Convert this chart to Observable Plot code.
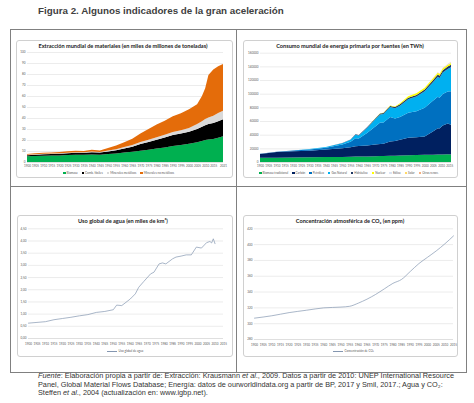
<!DOCTYPE html>
<html><head><meta charset="utf-8">
<script src="https://cdn.jsdelivr.net/npm/d3@7"></script>
<script src="https://cdn.jsdelivr.net/npm/@observablehq/plot@0.6"></script>
<style>
body{margin:0;background:#fff;width:474px;height:403px;position:relative;overflow:hidden;font-family:Arial,"Liberation Sans",sans-serif;}
.abs{position:absolute}
#title{left:38px;top:5px;font-size:9.8px;font-weight:bold;color:#404040;white-space:nowrap}
.ln{position:absolute;background:#808080}
.box{position:absolute;border:1px solid #d0d0d0;border-radius:3px;box-sizing:border-box;background:#fff}
.ct{position:absolute;font-family:Lato,"Open Sans",sans-serif;font-weight:bold;font-size:5.6px;color:#222;white-space:nowrap;transform:translateX(-50%)}
.leg{position:absolute;font-family:Lato,"Open Sans",sans-serif;font-size:3px;color:#595959;white-space:nowrap;display:flex;gap:4px;align-items:center}
.leg span.k{display:inline-block;width:2.5px;height:2.5px;margin-right:1px;vertical-align:middle}
.leg span.l{display:inline-block;width:10px;height:0;border-top:0.8px solid #8496b0;margin-right:1.5px;vertical-align:middle}
#note{left:38px;top:372px;font-size:7.3px;line-height:8.6px;color:#333;white-space:nowrap}
.plot{position:absolute}
</style></head>
<body>
<div id="title" class="abs">Figura 2. Algunos indicadores de la gran aceleración</div>
<div class="ln" style="left:10px;top:29px;width:457px;height:1px"></div>
<div class="ln" style="left:10px;top:372px;width:457px;height:1px"></div>
<div class="ln" style="left:10px;top:29px;width:1px;height:344px"></div>
<div class="ln" style="left:466px;top:29px;width:1px;height:344px"></div>
<div class="ln" style="left:236px;top:29px;width:1px;height:344px"></div>
<div class="ln" style="left:10px;top:186px;width:457px;height:1px"></div>

<div class="box" style="left:16px;top:40px;width:217px;height:138px"></div>
<div class="box" style="left:243px;top:40px;width:215px;height:138px"></div>
<div class="box" style="left:17px;top:215px;width:216px;height:142px"></div>
<div class="box" style="left:243px;top:215px;width:215px;height:142px"></div>

<div class="ct" style="left:123px;top:42px">Extracción mundial de materiales (en miles de millones de toneladas)</div>
<div class="ct" style="left:350px;top:42px">Consumo mundial de energía primaria por fuentes (en TWh)</div>
<div class="ct" style="left:123px;top:217px">Uso global de agua (en miles de km³)</div>
<div class="ct" style="left:350px;top:217px">Concentración atmosférica de CO₂ (en ppm)</div>

<div id="p1" class="plot" style="left:16px;top:48px"></div>
<div id="p2" class="plot" style="left:243px;top:48px"></div>
<div id="p3" class="plot" style="left:17px;top:224px"></div>
<div id="p4" class="plot" style="left:243px;top:224px"></div>

<div id="leg1" class="leg" style="left:63px;top:171px"></div>
<div id="leg2" class="leg" style="left:259px;top:171px"></div>
<div class="leg" style="left:107px;top:349px"><span><span class="l"></span>Uso global de agua</span></div>
<div class="leg" style="left:333px;top:349px"><span><span class="l"></span>Concentración de CO₂</span></div>

<div id="note" class="abs"><i>Fuente</i>: Elaboración propia a partir de: Extracción: Krausmann <i>et al</i>., 2009. Datos a partir de 2010: UNEP International Resource<br>Panel, Global Material Flows Database; Energía: datos de ourworldindata.org a partir de BP, 2017 y Smil, 2017.; Agua y CO₂:<br>Steffen <i>et al</i>., 2004 (actualización en: www.igbp.net).</div>

<script>
// ---------- Materials (Gt) ----------
const matYears = [1900,1905,1910,1915,1920,1925,1930,1935,1940,1945,1950,1955,1960,1965,1970,1975,1980,1985,1990,1995,2000,2005,2008,2010,2012,2015,2018,2021];
const biomasa   = [5.2,5.5,5.7,5.8,6.0,6.3,6.5,6.6,6.8,6.7,7.2,7.8,8.6,9.3,10.3,11.2,12.2,13.2,14.5,15.5,16.5,18.0,19.0,20.0,20.5,21.0,22.0,23.5];
const combFosiles = [1.0,1.2,1.4,1.5,1.6,1.7,1.8,1.7,2.1,1.9,2.4,2.9,3.7,4.6,6.0,7.0,8.0,9.0,10.0,10.3,11.0,12.0,13.0,13.5,14.0,14.5,15.0,15.3];
const minMetalicos = [0.3,0.3,0.4,0.4,0.4,0.5,0.5,0.5,0.7,0.6,0.8,1.0,1.3,1.5,1.9,2.1,2.4,2.5,2.8,3.0,3.5,4.5,5.0,5.5,6.0,6.5,7.5,7.7];
const minNoMetalicos = [0.8,0.9,1.0,1.0,1.1,1.3,1.4,1.3,1.5,1.3,2.4,3.2,4.4,5.8,7.6,9.7,11.5,12.8,14.2,15.5,17.0,18.0,23.0,28.0,38.5,42.0,42.5,42.5];
const matSeries = ["Biomasa","Comb. fósiles","Minerales metálicos","Minerales no metálicos"];
const matColors = ["#00b050","#000000","#d9d9d9","#e46c0a"];
const matTicks = [1900,1905,1910,1915,1920,1925,1930,1935,1940,1945,1950,1955,1960,1965,1970,1975,1980,1985,1990,1995,2000,2005,2010,2015,2021];

// ---------- Energy (TWh) ----------
const enYears = [1900,1910,1920,1930,1940,1950,1955,1958,1960,1965,1970,1973,1975,1979,1982,1985,1990,1995,2000,2005,2008,2009,2011,2014,2016];
const enBiomasa = [6100,6400,6700,7000,7300,7500,7700,7900,8000,8200,8500,8700,8800,9000,9200,9500,10000,10300,10500,10700,10900,11000,11100,11200,11100];
const enCarbon = [5700,8100,9100,9500,11000,12600,14000,15000,15400,16100,17000,17500,18000,21000,21500,23000,25500,26000,27000,34000,38500,38000,42500,45000,43500];
const enPetroleo = [180,420,930,1800,2700,5400,8000,12000,11000,18100,26600,31500,31000,36000,33000,33500,36500,38000,42000,45000,46000,45000,46000,47000,49000];
const enGas = [60,180,240,560,870,2100,3000,5000,4500,7400,10500,12000,12500,14500,15000,16500,20000,21500,24000,27000,29500,29000,31500,33000,35000];
const enHidro = [0,0,0,0,0,330,400,600,690,900,1200,1300,1400,1600,1700,1900,2100,2400,2600,2800,3100,3100,3300,3600,3800];
const enNuclear = [0,0,0,0,0,0,0,0,0,0,80,200,400,700,900,1500,2000,2300,2500,2700,2700,2600,2500,2500,2600];
const enEolica = [0,0,0,0,0,0,0,0,0,0,0,0,0,0,0,0,0,20,30,100,200,250,400,700,1000];
const enSolar = [0,0,0,0,0,0,0,0,0,0,0,0,0,0,0,0,0,0,0,5,15,20,60,200,350];
const enOtras = [0,0,0,0,0,0,0,0,0,0,0,0,0,0,50,80,100,150,200,250,300,320,350,400,450];
const enSeries = ["Biomasa tradicional","Carbón","Petróleo","Gas Natural","Hidráulica","Nuclear","Eólica","Solar","Otras renov."];
const enColors = ["#00b050","#002060","#0070c0","#00b0f0","#1f3864","#ffff00","#dae3f3","#ffd966","#f4b183"];
const enTicks = [1900,1905,1910,1915,1920,1925,1930,1935,1940,1945,1950,1955,1960,1965,1970,1975,1980,1985,1990,1995,2000,2005,2010,2015];

// ---------- Water (thousand km3) ----------
const aguaYears = [1900,1905,1910,1915,1920,1925,1930,1935,1940,1945,1950,1952,1955,1960,1963,1965,1968,1972,1974,1977,1979,1981,1985,1987,1990,1993,1996,1999,2002,2005,2007,2008,2009,2010];
const aguaUso   = [0.63,0.66,0.69,0.77,0.82,0.87,0.93,0.98,1.07,1.11,1.18,1.37,1.35,1.62,1.83,2.10,2.34,2.65,2.72,3.06,3.10,3.06,3.27,3.34,3.38,3.43,3.43,3.75,3.71,3.93,3.98,3.92,4.09,3.89];
const aguaTicks = [1900,1905,1910,1915,1920,1925,1930,1935,1940,1945,1950,1955,1960,1965,1970,1975,1980,1985,1990,1995,2000,2005,2010,2015];

// ---------- CO2 (ppm) ----------
const co2Years = [1900,1910,1920,1930,1940,1950,1955,1960,1965,1970,1975,1980,1985,1990,1995,2000,2005,2010,2015];
const co2Ppm   = [307,310,314,317,320,321,322,326,331,337,344,351,356,366,376,384,392,401,411];
const co2Ticks = aguaTicks;

const font = 'Lato,"Open Sans",sans-serif';
const axisStyle = {fontSize:"3px", fontFamily:font, color:"#595959", background:"transparent", overflow:"visible"};

function long(years, cols, names){
  const out=[];
  names.forEach((n,j)=>years.forEach((y,i)=>out.push({year:y, series:n, v:cols[j][i]})));
  return out;
}

// Panel 1
const matData = long(matYears,[biomasa,combFosiles,minMetalicos,minNoMetalicos],matSeries);
document.getElementById("p1").append(Plot.plot({
  width:217,height:124,marginTop:4,marginBottom:10,marginLeft:11,marginRight:10,
  style:axisStyle,
  x:{domain:[1900,2021],ticks:matTicks,tickFormat:d=>String(d),tickSize:0,tickPadding:2,label:null},
  y:{domain:[0,100],ticks:d3.range(0,101,10),tickSize:0,tickPadding:2,label:null},
  color:{domain:matSeries,range:matColors},
  marks:[
    Plot.gridY(d3.range(10,101,10),{stroke:"#d9d9d9",strokeOpacity:1,strokeWidth:0.5}),
    Plot.areaY(matData,{x:"year",y:"v",fill:"series",z:"series"}),
    Plot.ruleY([0],{stroke:"#bfbfbf",strokeWidth:0.5})
  ]
}));
document.getElementById("leg1").innerHTML = matSeries.map((s,i)=>`<span><span class="k" style="background:${matColors[i]}"></span>${s}</span>`).join("");

// Panel 2
const enData = long(enYears,[enBiomasa,enCarbon,enPetroleo,enGas,enHidro,enNuclear,enEolica,enSolar,enOtras],enSeries);
document.getElementById("p2").append(Plot.plot({
  width:215,height:124,marginTop:4.7,marginBottom:10,marginLeft:17,marginRight:7,
  style:axisStyle,
  x:{domain:[1900,2016],ticks:enTicks,tickFormat:d=>String(d),tickSize:0,tickPadding:2,label:null},
  y:{domain:[0,160000],ticks:d3.range(0,160001,20000),tickFormat:d=>String(d),tickSize:0,tickPadding:2,label:null},
  color:{domain:enSeries,range:enColors},
  marks:[
    Plot.gridY(d3.range(20000,160001,20000),{stroke:"#d9d9d9",strokeOpacity:1,strokeWidth:0.5}),
    Plot.areaY(enData,{x:"year",y:"v",fill:"series",z:"series"}),
    Plot.ruleY([0],{stroke:"#bfbfbf",strokeWidth:0.5})
  ]
}));
document.getElementById("leg2").innerHTML = enSeries.map((s,i)=>`<span><span class="k" style="background:${enColors[i]}"></span>${s}</span>`).join("");

// Panel 3
const aguaData = aguaYears.map((y,i)=>({year:y,v:aguaUso[i]}));
document.getElementById("p3").append(Plot.plot({
  width:216,height:120,marginTop:4.3,marginBottom:6,marginLeft:11,marginRight:10,
  style:axisStyle,
  x:{domain:[1900,2015],ticks:aguaTicks,tickFormat:d=>String(d),tickSize:0,tickPadding:4,label:null},
  y:{domain:[0,4.5],ticks:d3.range(0,4.51,0.5),tickFormat:d=>d.toFixed(2).replace(".",","),tickSize:0,tickPadding:2,label:null},
  marks:[
    Plot.gridY(d3.range(0.5,4.51,0.5),{stroke:"#d9d9d9",strokeOpacity:1,strokeWidth:0.5}),
    Plot.ruleY([0],{stroke:"#bfbfbf",strokeWidth:0.5}),
    Plot.lineY(aguaData,{x:"year",y:"v",stroke:"#8496b0",strokeWidth:0.7})
  ]
}));

// Panel 4
const co2Data = co2Years.map((y,i)=>({year:y,v:co2Ppm[i]}));
document.getElementById("p4").append(Plot.plot({
  width:215,height:120,marginTop:4.3,marginBottom:5,marginLeft:11,marginRight:5,
  style:axisStyle,
  x:{domain:[1900,2015],ticks:co2Ticks,tickFormat:d=>String(d),tickSize:0,tickPadding:4,label:null},
  y:{domain:[280,420],ticks:d3.range(280,421,20),tickSize:0,tickPadding:2,label:null},
  marks:[
    Plot.gridY(d3.range(300,421,20),{stroke:"#d9d9d9",strokeOpacity:1,strokeWidth:0.5}),
    Plot.ruleY([280],{stroke:"#bfbfbf",strokeWidth:0.5}),
    Plot.lineY(co2Data,{x:"year",y:"v",stroke:"#8496b0",strokeWidth:0.7,curve:"monotone-x"})
  ]
}));
</script>
</body></html>
